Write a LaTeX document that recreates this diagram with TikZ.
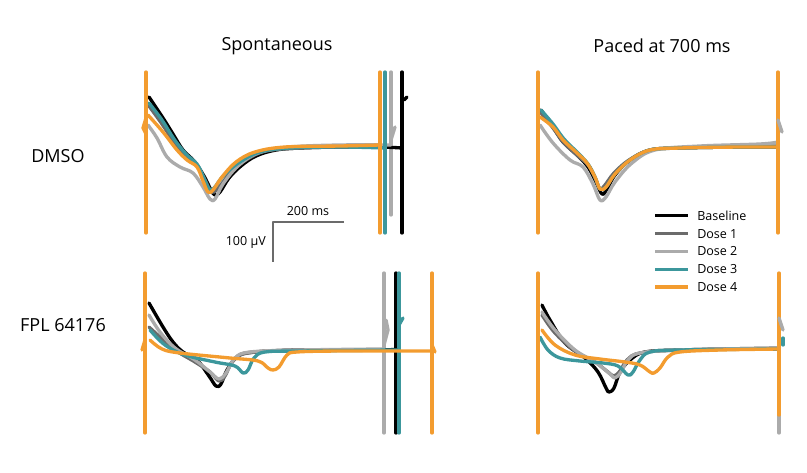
\documentclass[tikz,border=0pt]{standalone}
\usepackage{fontspec}
\setmainfont{Open Sans}
\usepackage{xcolor}
\usetikzlibrary{positioning}
\definecolor{dosea}{HTML}{6B6B6B}
\definecolor{doseb}{HTML}{ABABAB}
\definecolor{dosec}{HTML}{3C979C}
\definecolor{dosed}{HTML}{F39C2F}

\begin{document}
\begin{tikzpicture}[x=0.75pt, y=-0.75pt, line join=round, line cap=round]

	\tikzstyle{trace}=[line width=2.5pt]
	\tikzstyle{spike}=[line width=2.5pt]
	\tikzstyle{title}=[font=\fontsize{13.5}{16}\selectfont]
	\tikzstyle{legtext}=[font=\fontsize{9.4}{11}\selectfont, anchor=west, inner sep=0pt]
	\useasboundingbox (0,0) rectangle (807,472);

	% Titles
	\node[title] (spon) at (277,46) {Spontaneous};
	\node[title] (paced) at (662,46) {Paced at 700 ms};
	\node[title] (dmso) at (58,156) {DMSO};
	\node[title] (fpl) at (63,325) {FPL 64176};

	% Spontaneous, DMSO
	\draw[spike, black] (402,72) -- (402,233);
	\draw[trace, black] (404,100) -- (407,97);
	\draw[spike, doseb] (391,72) -- (391,215);
	\draw[trace, doseb] (391,140) -- (395,127);
	\draw[trace, black] plot[smooth, tension=0.6] coordinates {(149,97) (163,118) (173,134) (183,150) (194,161) (204,176) (211,190) (215,195) (220,192) (229,178) (241,166) (256,156) (276,150) (300,148) (340,147) (380,147) (402,148)};
	\draw[trace, dosea] plot[smooth, tension=0.6] coordinates {(149,106) (162,124) (174,142) (186,156) (196,164) (204,178) (210,190) (214,192) (220,186) (231,172) (246,160) (266,151) (300,148) (340,147) (380,147)};
	\draw[trace, doseb] plot[smooth, tension=0.6] coordinates {(148,125) (157,138) (167,157) (180,167) (193,173) (203,187) (210,199) (215,199) (223,184) (238,166) (258,153) (290,147) (340,145) (391,145)};
	\draw[trace, dosec] plot[smooth, tension=0.6] coordinates {(149,103) (162,120) (174,139) (186,154) (197,164) (204,178) (209,189) (214,188) (224,175) (240,162) (260,152) (290,148) (340,147) (385,148)};
	\draw[spike, dosec] (385,72) -- (385,233);
	\draw[trace, dosed] plot[smooth, tension=0.6] coordinates {(148,115) (163,132) (177,150) (187,160) (197,167) (203,181) (208,192) (213,190) (222,177) (236,162) (255,152) (285,147) (340,146) (380,145)};
	\draw[spike, dosed] (380,72) -- (380,233);
	\draw[spike, dosed] (146,72) -- (146,233);
	\draw[trace, dosed] (146,118) -- (143,128) -- (146,134);

	% Paced, DMSO
	\draw[trace, black] plot[smooth, tension=0.6] coordinates {(541,110) (553,127) (563,142) (577,155) (588,167) (596,182) (602,194) (607,189) (615,175) (630,160) (650,150) (680,148) (740,147) (778,147)};
	\draw[trace, dosea] plot[smooth, tension=0.6] coordinates {(541,113) (553,128) (564,143) (578,156) (589,166) (596,180) (600,189) (605,185) (614,173) (629,160) (650,150) (680,148) (740,146) (778,146)};
	\draw[trace, doseb] plot[smooth, tension=0.6] coordinates {(540,125) (553,143) (570,160) (583,167) (593,184) (600,200) (606,197) (615,182) (632,163) (655,150) (700,146) (760,144) (778,142)};
	\draw[trace, dosec] plot[smooth, tension=0.6] coordinates {(541,110) (553,124) (564,139) (578,153) (588,164) (595,177) (600,189) (606,187) (615,174) (630,160) (650,150) (680,148) (740,147) (778,147)};
	\draw[trace, dosed] plot[smooth, tension=0.6] coordinates {(540,117) (553,127) (563,140) (577,153) (587,163) (595,177) (600,189) (606,187) (615,174) (630,160) (650,150) (680,148) (740,147) (778,147)};
	\draw[spike, dosed] (538,72) -- (538,233);
	\draw[spike, dosed] (778,72) -- (778,233);
	\draw[trace, doseb] (778,120) -- (782,132);

	% Spontaneous, FPL 64176
	\draw[spike, doseb] (384,273) -- (384,433);
	\draw[trace, doseb] (384,345) -- (388,330) -- (386,320);
	\draw[spike, black] (396,273) -- (396,433);
	\draw[spike, dosec] (399,273) -- (399,433);
	\draw[trace, dosec] (399,325) -- (403,318);
	\draw[trace, black] plot[smooth, tension=0.6] coordinates {(149,303) (163,327) (173,342) (183,352) (197,360) (209,376) (216,386) (221,384) (227,370) (238,356) (255,352) (300,350) (380,350) (396,349)};
	\draw[trace, dosea] plot[smooth, tension=0.6] coordinates {(149,327) (160,337) (175,350) (195,362) (210,372) (219,381) (225,376) (233,361) (248,353) (300,350) (384,350)};
	\draw[trace, doseb] plot[smooth, tension=0.6] coordinates {(149,315) (160,332) (175,348) (195,360) (210,372) (219,379) (226,373) (235,358) (250,352) (300,350) (384,349)};
	\draw[trace, dosec] plot[smooth, tension=0.6] coordinates {(150,330) (165,345) (185,355) (215,362) (235,366) (243,373) (248,370) (254,358) (265,352) (300,351) (398,350)};
	\draw[trace, dosed] plot[smooth, tension=0.6] coordinates {(150,340) (162,349) (180,353) (230,358) (258,361) (268,368) (273,370) (279,367) (287,355) (297,352) (340,351) (432,351)};
	\draw[spike, dosed] (145,273) -- (145,433);
	\draw[trace, dosed] (145,340) -- (142,350);
	\draw[spike, dosed] (432,273) -- (432,433);
	\draw[trace, dosed] (432,345) -- (435,352);

	% Paced, FPL 64176
	\draw[trace, black] plot[smooth, tension=0.6] coordinates {(542,305) (550,320) (565,343) (585,358) (598,372) (606,388) (609,392) (614,388) (620,372) (630,360) (645,352) (680,350) (740,349) (779,349)};
	\draw[trace, dosea] plot[smooth, tension=0.6] coordinates {(542,315) (555,333) (575,351) (595,362) (608,372) (614,376) (620,371) (627,360) (640,353) (680,350) (779,348)};
	\draw[trace, doseb] plot[smooth, tension=0.6] coordinates {(542,312) (555,330) (575,350) (595,362) (610,374) (615,378) (621,372) (628,360) (640,353) (680,350) (779,348)};
	\draw[trace, dosec] plot[smooth, tension=0.6] coordinates {(540,337) (548,350) (560,358) (580,361) (603,363) (618,366) (628,375) (633,372) (640,360) (650,352) (680,350) (779,349)};
	\draw[trace, dosed] plot[smooth, tension=0.6] coordinates {(542,330) (555,345) (575,355) (600,359) (625,362) (640,365) (650,372) (654,373) (660,368) (668,357) (680,352) (720,350) (779,349)};
	\draw[spike, dosed] (538,273) -- (538,433);
	\draw[spike, doseb] (779,415) -- (779,433);
	\draw[spike, dosed] (779,273) -- (779,415);
	\draw[trace, doseb] (779,318) -- (783,330);
	\draw[trace, dosec] (783,338) -- (783,345);

	% Scale bar
	\coordinate (corner) at (273,222);
	\coordinate (tend) at (344,222);
	\coordinate (vend) at (273,262);
	\draw[line width=1.3pt, dosea, line cap=butt] (tend) -- (corner) -- (vend);
	\node[legtext, anchor=south] (ms) at (308,216) {200 ms};
	\node[legtext, anchor=east] (uv) at (266,242) {100 µV};

	% Legend
	\foreach \col/\lab [count=\i] in {black/Baseline, dosea/Dose 1, doseb/Dose 2, dosec/Dose 3, dosed/Dose 4}{
		\coordinate (l\i) at (655,198+17.8*\i);
		\draw[trace, line cap=butt, \col] (l\i) -- ++(33,0);
		\node[legtext] (lab\i) at (697,198+17.8*\i) {\lab};
	}

\end{tikzpicture}
\end{document}
